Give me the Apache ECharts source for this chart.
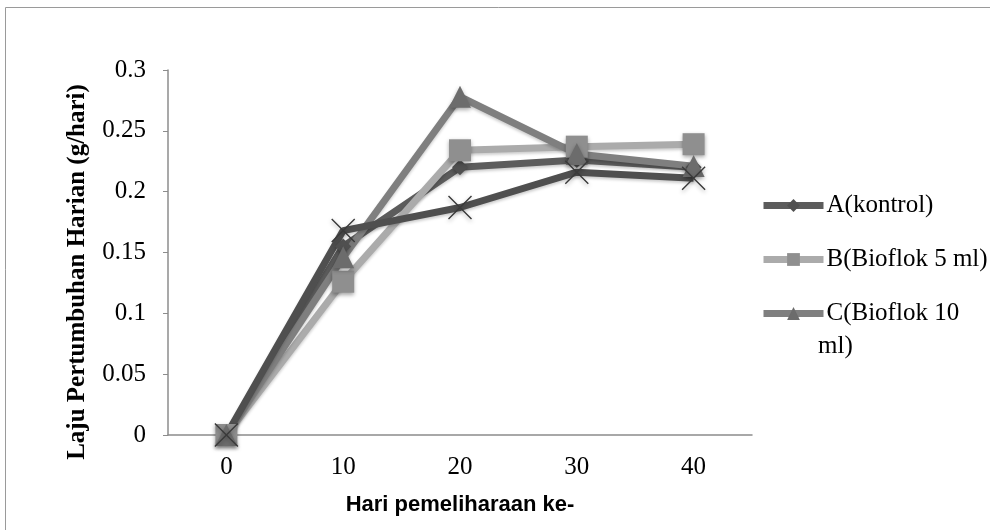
<!DOCTYPE html>
<html>
<head>
<meta charset="utf-8">
<script src="https://cdn.jsdelivr.net/npm/echarts@6/dist/echarts.min.js"></script>
<style>
  html, body { margin: 0; padding: 0; background: #fff; }
  #chart { width: 990px; height: 530px; }
</style>
</head>
<body>
<div id="chart"></div>
<script>
// hari pemeliharaan
const days = ['0', '10', '20', '30', '40'];
const seriesNames = ['A(kontrol)', 'B(Bioflok 5 ml)', 'C(Bioflok 10 ml)', 'D'];
const valuesA = [0, 0.155, 0.220, 0.226, 0.220];
const valuesB = [0, 0.126, 0.234, 0.237, 0.239];
const valuesC = [0, 0.146, 0.278, 0.231, 0.221];
const valuesD = [0, 0.168, 0.187, 0.216, 0.211];

const crossPath = 'path://M0,1 L1,0 L12,11 L23,0 L24,1 L13,12 L24,23 L23,24 L12,13 L1,24 L0,23 L11,12 Z';
const shadow = { shadowBlur: 4, shadowColor: 'rgba(0,0,0,0.35)', shadowOffsetY: 2 };
const serif = '"Liberation Serif", "Times New Roman", serif';

function lineSeries(name, data, lineColor, markColor, symbol, size, width) {
    return {
        name: name,
        type: 'line',
        data: data,
        symbol: symbol,
        symbolSize: size,
        clip: false,
        lineStyle: { color: lineColor, width: width, shadowBlur: 3, shadowColor: 'rgba(0,0,0,0.2)', shadowOffsetY: 2 },
        itemStyle: Object.assign({ color: markColor }, shadow)
    };
}

const chart = echarts.init(document.getElementById('chart'));
chart.setOption({
    animation: false,
    grid: { left: 168, right: 238, top: 70, bottom: 95 },
    graphic: [
        {
            type: 'rect', silent: true,
            shape: { x: 5.5, y: 7.5, width: 1000, height: 600 },
            style: { fill: null, stroke: '#9a9a9a', lineWidth: 1 }
        },
        {
            type: 'text', x: 78, y: 272, rotation: Math.PI / 2,
            style: {
                text: 'Laju Pertumbuhan Harian (g/hari)',
                font: 'bold 25px ' + serif,
                fill: '#000', align: 'center', verticalAlign: 'middle'
            }
        },
        {
            // second line of legend C
            type: 'text', left: 818, top: 334,
            style: { text: 'ml)', font: '25px ' + serif, fill: '#000' }
        }
    ],
    legend: {
        data: seriesNames.slice(0, 3),
        orient: 'vertical',
        left: 755, top: 188,
        itemWidth: 60, itemHeight: 16, itemGap: 29,
        lineStyle: { width: 7 },
        formatter: function (n) { return n === 'C(Bioflok 10 ml)' ? 'C(Bioflok 10' : n; },
        textStyle: { fontFamily: serif, fontSize: 25, color: '#000', padding: [0, 0, 0, -2] }
    },
    xAxis: {
        type: 'category',
        data: days,
        boundaryGap: true,
        name: 'Hari pemeliharaan ke-',
        nameLocation: 'middle',
        nameGap: 59,
        nameTextStyle: { fontFamily: '"Liberation Sans", Arial, sans-serif', fontWeight: 'bold', fontSize: 22, color: '#000' },
        axisLine: { lineStyle: { color: '#8c8c8c', width: 1.5 } },
        axisTick: { show: false },
        axisLabel: { margin: 20, color: '#000', fontFamily: serif, fontSize: 25 }
    },
    yAxis: {
        type: 'value',
        min: 0, max: 0.3, interval: 0.05,
        axisLine: { show: true, lineStyle: { color: '#8c8c8c', width: 1.5 } },
        axisTick: { show: true, length: 5, lineStyle: { color: '#8c8c8c' } },
        splitLine: { show: false },
        axisLabel: {
            margin: 22, color: '#000', fontFamily: serif, fontSize: 25,
            formatter: function (v) { return String(+v.toFixed(2)); }
        }
    },
    series: [
        lineSeries(seriesNames[0], valuesA, '#5c5c5c', '#505050', 'diamond', 16, 7),
        lineSeries(seriesNames[1], valuesB, '#ababab', '#8f8f8f', 'rect', 22, 7),
        lineSeries(seriesNames[2], valuesC, '#7f7f7f', '#6c6c6c', 'triangle', 22, 7),
        lineSeries(seriesNames[3], valuesD, '#4f4f4f', '#3a3a3a', crossPath, 24, 7)
    ]
});
</script>
</body>
</html>
